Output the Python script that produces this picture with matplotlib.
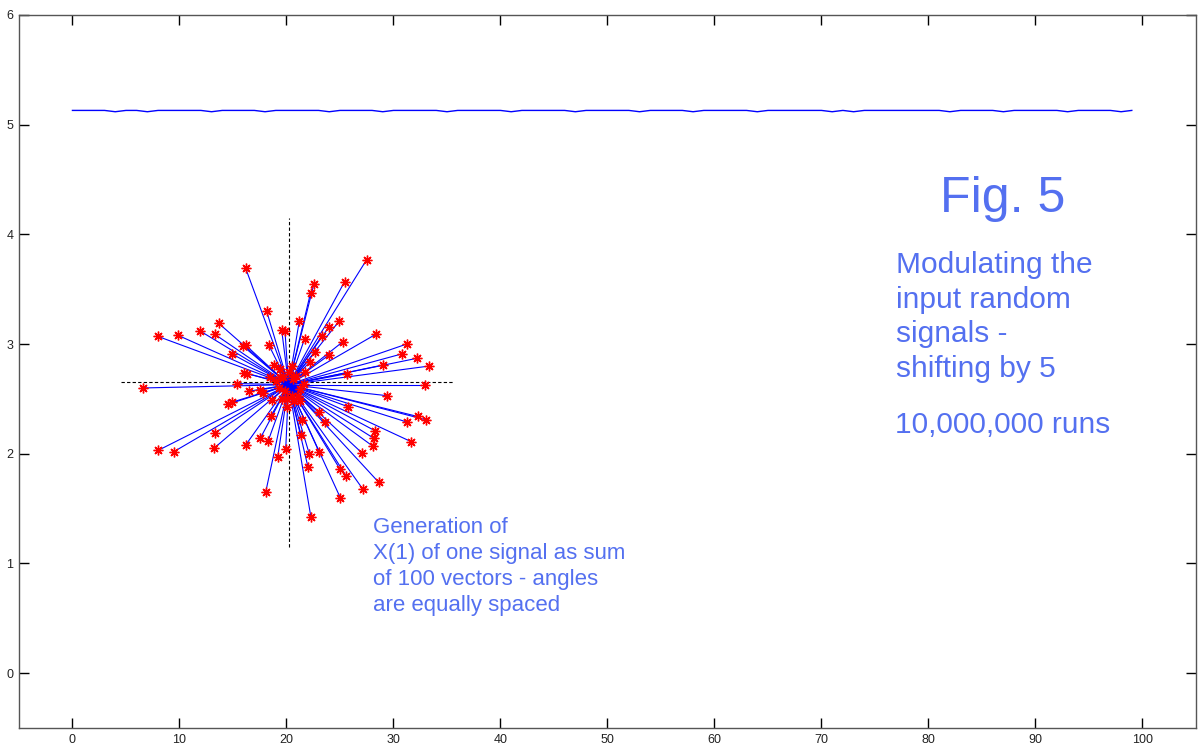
import numpy as np
import matplotlib.pyplot as plt

# mean magnitude per sample, shifted by 5 (100 samples)
level_hi = 5.13
level_lo = 5.118
dip_idx = [4, 7, 13, 18, 24, 29, 35, 41, 47, 53, 58, 64, 71, 73, 82, 87, 93, 98]

# X(1) of one signal: 100 vectors drawn from a common origin
origin = (20.2, 2.63)
tip_x = [27.50, 16.19, 22.57, 25.44, 22.26, 18.15, 21.20, 24.93, 13.66, 19.55,
         19.86, 24.00, 7.99, 9.86, 11.92, 13.29, 28.36, 23.29, 21.70, 16.19,
         15.96, 18.36, 25.25, 31.23, 22.69, 14.91, 23.97, 30.77, 32.17, 33.35,
         29.05, 22.20, 18.86, 20.49, 16.03, 16.34, 25.65, 6.62, 15.37, 32.94,
         16.47, 17.50, 17.83, 29.36, 18.62, 14.50, 14.91, 25.72, 23.07, 18.52,
         23.60, 21.42, 32.26, 31.23, 33.04, 28.27, 13.32, 21.36, 28.18, 31.66,
         17.55, 18.30, 7.99, 9.49, 13.22, 16.19, 28.06, 19.93, 22.13, 23.04,
         27.03, 19.18, 22.01, 25.00, 25.56, 28.62, 18.06, 27.12, 25.03, 22.29,
         20.58, 20.02, 21.64, 19.39, 19.68, 20.89, 19.86, 20.51, 19.30, 21.27,
         20.70, 19.58, 19.02, 21.08, 20.23, 20.05, 21.26, 19.39, 18.46, 21.73]
tip_y = [3.77, 3.69, 3.55, 3.57, 3.47, 3.30, 3.21, 3.21, 3.19, 3.13,
         3.12, 3.16, 3.07, 3.08, 3.12, 3.09, 3.09, 3.07, 3.05, 2.99,
         2.98, 2.99, 3.02, 3.00, 2.93, 2.91, 2.90, 2.91, 2.87, 2.80,
         2.81, 2.84, 2.81, 2.80, 2.74, 2.73, 2.73, 2.60, 2.64, 2.63,
         2.57, 2.58, 2.55, 2.53, 2.49, 2.45, 2.47, 2.43, 2.38, 2.34,
         2.29, 2.31, 2.34, 2.29, 2.31, 2.21, 2.19, 2.17, 2.14, 2.11,
         2.14, 2.12, 2.03, 2.02, 2.05, 2.08, 2.07, 2.04, 2.00, 2.02,
         2.01, 1.97, 1.88, 1.86, 1.80, 1.74, 1.65, 1.68, 1.60, 1.42,
         2.68, 2.43, 2.64, 2.70, 2.70, 2.71, 2.57, 2.53, 2.60, 2.59,
         2.48, 2.50, 2.66, 2.53, 2.75, 2.50, 2.48, 2.77, 2.70, 2.75]

# reference cross through the origin
cross_x = [4.5, 35.6]
cross_y = [1.15, 4.15]

txt_color = "#5470f0"
plt.rcParams["font.family"] = ["Liberation Sans", "DejaVu Sans"]

fig = plt.figure(figsize=(11.99, 7.49), dpi=100)
ax = fig.add_axes([0.0158, 0.028, 0.9817, 0.952])

n = np.arange(100)
level = np.full(100, level_hi)
level[dip_idx] = level_lo
ax.plot(n, level, color="#0000ff", lw=1.0)

ax.plot(cross_x, [2.65, 2.65], color="black", lw=0.8, ls=(0, (3, 2)))
ax.plot([20.2, 20.2], cross_y, color="black", lw=0.8, ls=(0, (3, 2)))

for x, y in zip(tip_x, tip_y):
    ax.plot([origin[0], x], [origin[1], y], color="#0000ff", lw=0.8)
ax.plot(tip_x, tip_y, ls="none", marker=(8, 2, 0), ms=7, mew=1.0, color="red")

# multi-line texts: y is the baseline of the last line
ax.text(81.1, 4.20, "Fig. 5", color=txt_color, fontsize=36, va="baseline")
ax.text(77.0, 2.70, "Modulating the\ninput random\nsignals -\nshifting by 5",
        color=txt_color, fontsize=21.5, va="baseline", linespacing=1.3)
ax.text(76.9, 2.19, "10,000,000 runs", color=txt_color, fontsize=21.5, va="baseline")
ax.text(28.1, 0.57, "Generation of\nX(1) of one signal as sum\nof 100 vectors - angles\nare equally spaced",
        color=txt_color, fontsize=16, va="baseline", linespacing=1.3)

ax.set_xlim(-5, 105)
ax.set_ylim(-0.5, 6)
ax.set_xticks(np.arange(0, 101, 10))
ax.set_yticks(np.arange(0, 7, 1))
ax.tick_params(direction="in", length=7, width=1, top=True, right=True,
               labelsize=9, labelcolor="#222222", pad=4)
for s in ax.spines.values():
    s.set_color("#555555")
    s.set_linewidth(1.0)

fig.savefig("out.png", dpi=100)
